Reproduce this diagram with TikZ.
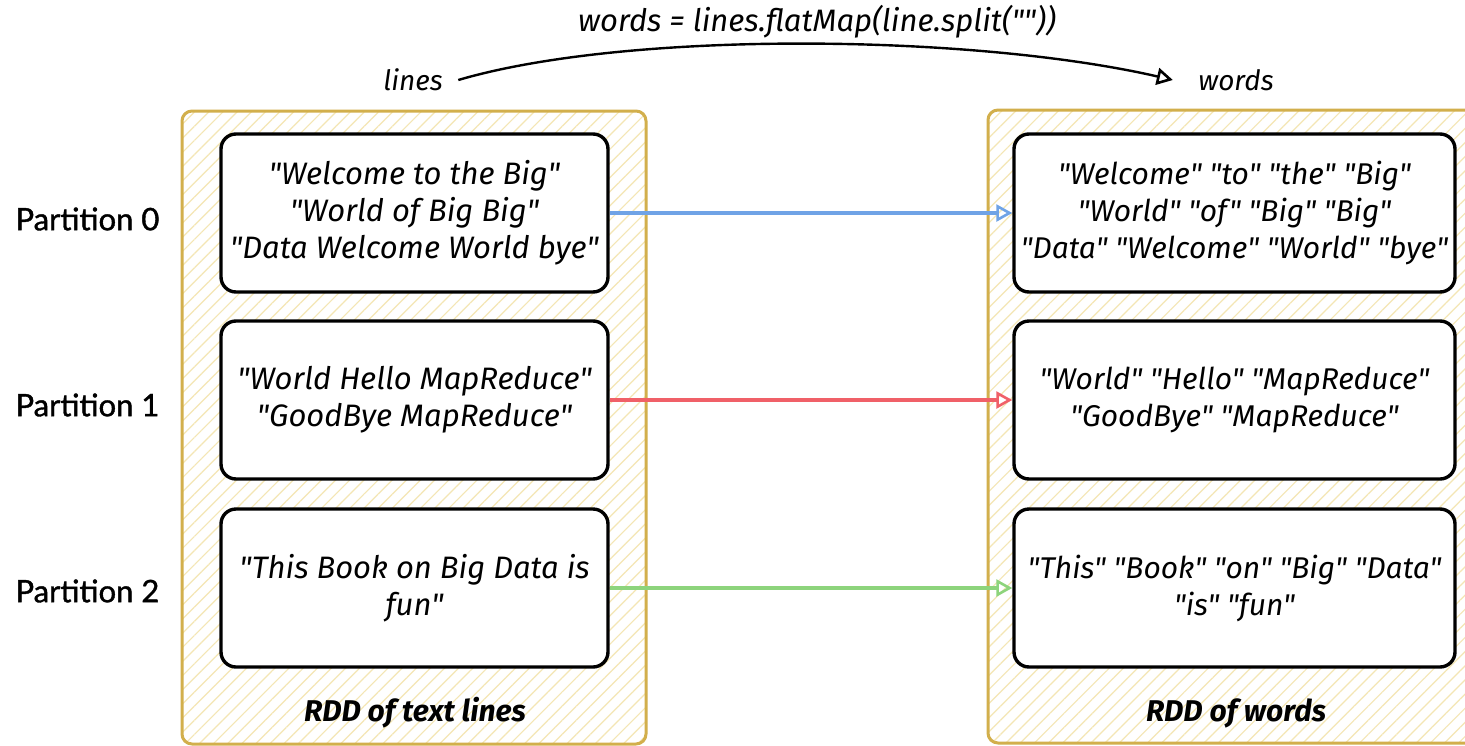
\documentclass[tikz,border=0pt]{standalone}
\usepackage{fontspec}
\setmainfont{Fira Sans}[Ligatures=TeXOff]
\newfontfamily\labelfont{Lato}[FakeBold=1.2]
\usetikzlibrary{arrows.meta,patterns.meta}
\definecolor{goldline}{HTML}{D2AF4C}
\definecolor{hatch}{HTML}{F4E6B4}
\definecolor{arrblue}{HTML}{6FA3E6}
\definecolor{arrred}{HTML}{F06068}
\definecolor{arrgreen}{HTML}{8DD47C}
\tikzset{
  rdd/.style={draw=goldline, line width=3pt, rounded corners=10pt,
    pattern={Lines[angle=45,distance=10pt,line width=1.2pt]}, pattern color=hatch,
    minimum width=#1, minimum height=633pt, inner sep=0pt},
  part/.style n args={2}{draw=black, line width=3.4pt, rounded corners=15pt, fill=white,
    minimum height=158pt, minimum width=#1, inner sep=0pt, align=center,
    font=\itshape\fontsize{#2}{37}\selectfont},
  plabel/.style={font=\labelfont\fontsize{31}{32}\selectfont, anchor=west},
  hand/.style={font=\itshape\fontsize{28}{30}\selectfont},
  caption/.style={font=\bfseries\itshape\fontsize{30}{32}\selectfont},
  flow/.style={line width=3.2pt, -{Triangle[open,length=16pt,width=17pt,line width=2.6pt]}},
}
\begin{document}
\begin{tikzpicture}[x=1pt,y=-1pt]
\useasboundingbox (0,0) rectangle (1465,745);
\clip (0,0) rectangle (1465,745);
\fill[white] (0,0) rectangle (1465,745);

% the two RDD containers
\node[rdd=464pt] (rddL) at (414,427.5) {};
\node[rdd=492pt] (rddR) at (1234,426.5) {};

% partitions of the RDD of text lines
\node[part={387pt}{31}] (L0) at (414.5,213) {"Welcome to the Big"\\"World of Big Big"\\"Data Welcome World bye"};
\node[part={387pt}{31}] (L1) at (414.5,400) {"World Hello MapReduce"\\"GoodBye MapReduce"};
\node[part={387pt}{31}] (L2) at (414.5,588) {"This Book on Big Data is\\fun"};

% partitions of the RDD of words
\node[part={441pt}{30}] (R0) at (1234.5,213) {"Welcome" "to" "the" "Big"\\"World" "of" "Big" "Big"\\"Data" "Welcome" "World" "bye"};
\node[part={441pt}{30}] (R1) at (1234.5,400) {"World" "Hello" "MapReduce"\\"GoodBye" "MapReduce"};
\node[part={441pt}{30}] (R2) at (1234.5,588) {"This" "Book" "on" "Big" "Data"\\"is" "fun"};

% partition labels
\node[plabel] (P0) at (12,219) {Partition 0};
\node[plabel] (P1) at (12,405) {Partition 1};
\node[plabel] (P2) at (12,591) {Partition 2};

% container captions
\node[caption] (capL) at (415,713) {RDD of text lines};
\node[caption] (capR) at (1236,713) {RDD of words};

% per-partition transformation arrows
\draw[flow, arrblue] (L0.east) -- (R0.west);
\draw[flow, arrred] (L1.east) -- (R1.west);
\draw[flow, arrgreen] (L2.east) -- (R2.west);

% top transformation
\node[hand] (lines) at (413,80) {lines};
\node[hand] (words) at (1236,80) {words};
\node[hand, font=\itshape\fontsize{31}{32}\selectfont] (op) at (817,22) {words = lines.flatMap(line.split(""))};
\draw[flow, black, line width=2.4pt] ([xshift=12pt]lines.east)
  .. controls +(170,-50) and +(-200,-46) .. ([xshift=-22pt]words.west);
\end{tikzpicture}
\end{document}
